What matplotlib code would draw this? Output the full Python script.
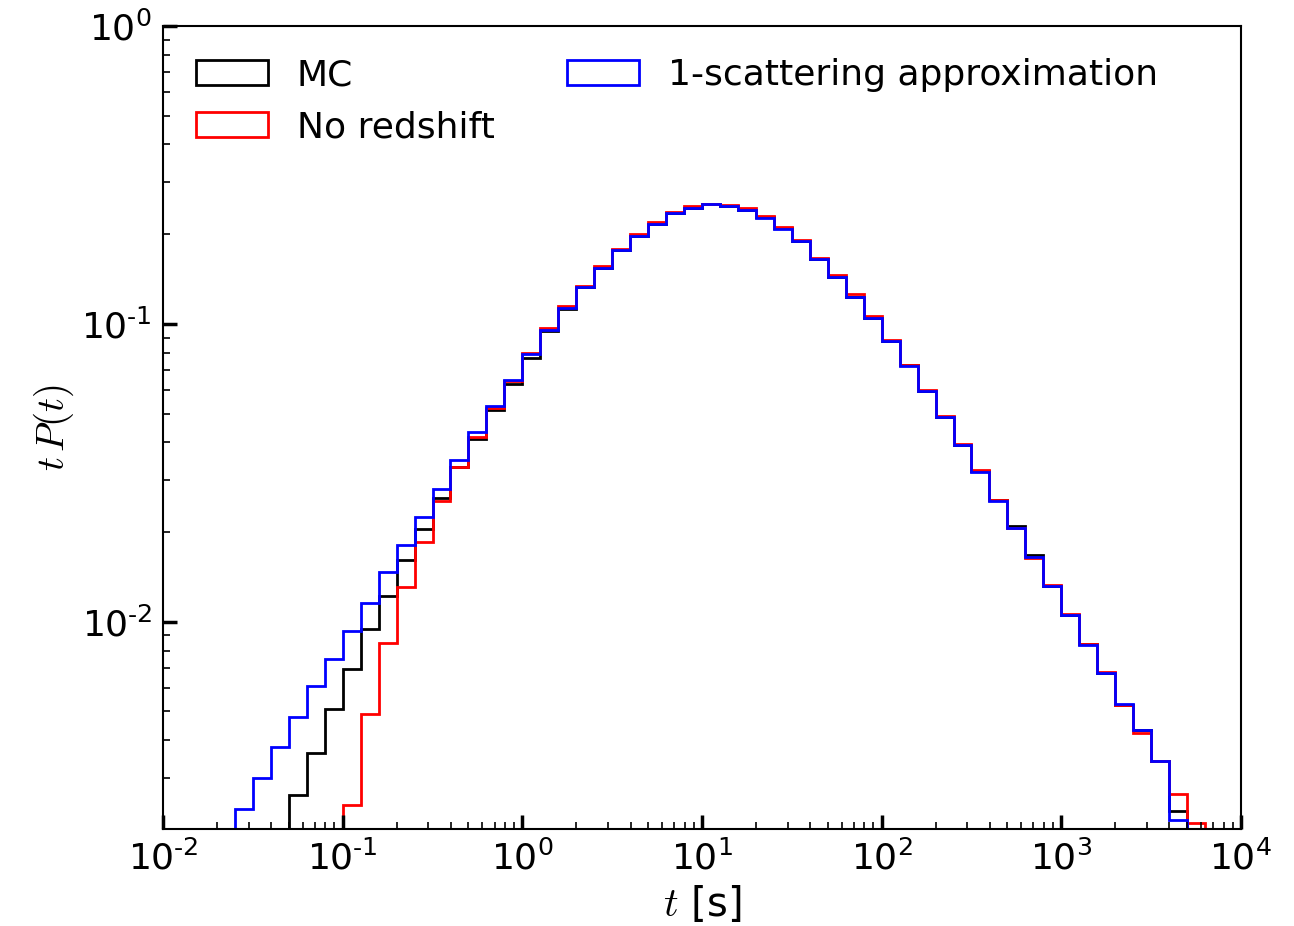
import numpy as np
import matplotlib
matplotlib.use("Agg")
from matplotlib import pyplot as plt
from matplotlib.patches import Patch
from matplotlib.ticker import FuncFormatter

# log10 of the first bin edge for each series, bins are 0.1 dex wide
mc_start = -1.3
noz_start = -1.0
one_start = -1.6

# t P(t) per bin
mc_vals = [2.63e-3, 3.64e-3, 5.10e-3, 6.94e-3, 9.48e-3, 1.22e-2, 1.61e-2, 2.05e-2, 2.6e-2, 3.3e-2,
           4.12e-2, 5.13e-2, 6.30e-2, 7.71e-2, 9.5e-2, 0.1125, 0.1325, 0.1535, 0.177, 0.1975,
           0.217, 0.235, 0.2455, 0.252, 0.249, 0.242, 0.228, 0.209, 0.189, 0.165,
           0.144, 0.123, 0.105, 0.0875, 0.0725, 0.0595, 0.0486, 0.0392, 0.0320, 0.0256,
           0.0209, 0.0167, 0.0132, 0.0105, 8.4e-3, 6.75e-3, 5.25e-3, 4.32e-3, 3.42e-3, 2.32e-3]
noz_vals = [2.42e-3, 4.89e-3, 8.5e-3, 1.31e-2, 1.85e-2, 2.55e-2, 3.31e-2, 4.17e-2, 5.2e-2, 6.45e-2,
            7.99e-2, 9.7e-2, 0.1147, 0.134, 0.156, 0.179, 0.200, 0.220, 0.2365, 0.248,
            0.253, 0.251, 0.2445, 0.230, 0.211, 0.191, 0.167, 0.146, 0.126, 0.106,
            0.0885, 0.0730, 0.0602, 0.0490, 0.0396, 0.0322, 0.0257, 0.0207, 0.0164, 0.0133,
            0.01065, 8.4e-3, 6.8e-3, 5.25e-3, 4.25e-3, 3.42e-3, 2.65e-3, 2.12e-3]
one_vals = [2.36e-3, 2.98e-3, 3.79e-3, 4.78e-3, 6.08e-3, 7.51e-3, 9.33e-3, 1.16e-2, 1.47e-2, 1.81e-2,
            2.24e-2, 2.80e-2, 3.48e-2, 4.32e-2, 5.29e-2, 6.50e-2, 7.91e-2, 9.53e-2, 0.1127, 0.1325,
            0.1535, 0.177, 0.1976, 0.217, 0.235, 0.2453, 0.2518, 0.249, 0.2415, 0.227,
            0.2086, 0.189, 0.165, 0.144, 0.123, 0.1047, 0.0874, 0.0723, 0.0594, 0.0485,
            0.0391, 0.0319, 0.0255, 0.0207, 0.0165, 0.01315, 0.01051, 8.38e-3, 6.75e-3, 5.31e-3,
            4.32e-3, 3.42e-3, 2.16e-3]

labels = ["MC", "No redshift", "1-scattering approximation"]
colors = ["black", "red", "blue"]

plt.rcParams["mathtext.fontset"] = "cm"

fig = plt.figure(figsize=(12.94, 9.26), dpi=100)
ax = fig.add_axes([0.126, 0.105, 0.833, 0.867])


def edges(start, n):
    return 10 ** (start + 0.1 * np.arange(n + 1))


for start, vals, c in zip([mc_start, noz_start, one_start], [mc_vals, noz_vals, one_vals], colors):
    ax.stairs(vals, edges(start, len(vals)), baseline=1e-4, fill=False, color=c, linewidth=2)

ax.set_xscale("log")
ax.set_yscale("log")
ax.set_xlim(1e-2, 1e4)
ax.set_ylim(2.02e-3, 1)


# old-style labels with a short hyphen in the exponent
def pow10(v, pos):
    e = int(round(np.log10(v)))
    if e < 0:
        return r"$\mathdefault{10^{\text{-}%d}}$" % (-e)
    return r"$\mathdefault{10^{%d}}$" % e


ax.xaxis.set_major_formatter(FuncFormatter(pow10))
ax.yaxis.set_major_formatter(FuncFormatter(pow10))

ax.tick_params(which="both", direction="in", top=False, right=False, labelsize=26)
ax.tick_params(which="major", length=10, width=2.5, pad=8)
ax.tick_params(which="minor", length=5, width=1.2)
for s in ax.spines.values():
    s.set_linewidth(1.5)

ax.set_xlabel("$t$ [s]", fontsize=29, labelpad=6)
ax.set_ylabel(r"$t\,P(t)$", fontsize=28)

handles = [Patch(facecolor="none", edgecolor=c, linewidth=2) for c in colors]
ax.legend(handles, labels, loc="upper left", ncol=2, frameon=False, fontsize=26,
          handlelength=2.0, columnspacing=2.0, borderaxespad=0.5)

fig.savefig("out.png", dpi=100)
